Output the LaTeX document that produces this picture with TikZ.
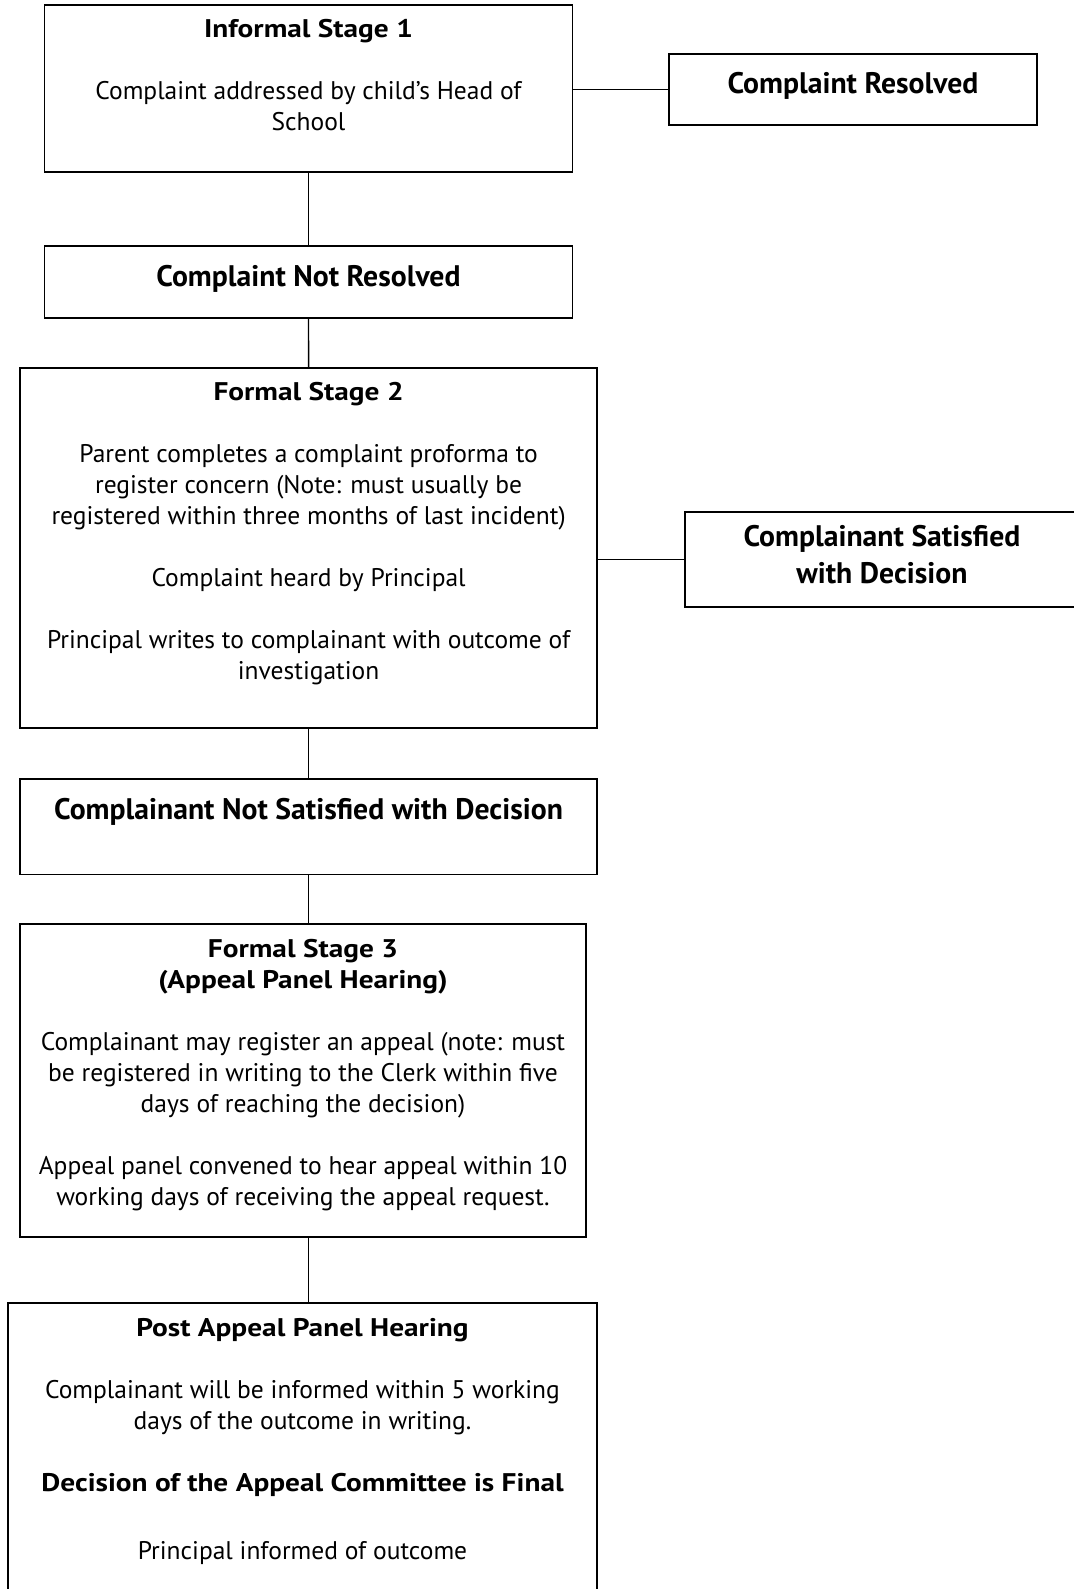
\documentclass[tikz,border=0pt]{standalone}
\usepackage{fontspec}
\setmainfont{PT Sans}
\newfontfamily\headfont[FakeStretch=1.15]{PT Sans}
\usetikzlibrary{positioning}

\begin{document}
\begin{tikzpicture}[x=0.5pt,y=-0.5pt]
  \tikzstyle{every node} = [inner sep=0pt, outer sep=0pt]
  \tikzstyle{box} = [draw, rectangle, line width=0.9pt]
  \tikzstyle{txt} = [align=center, font=\fontsize{12.75}{15.5}\selectfont]
  \tikzstyle{big} = [align=center, font=\fontsize{14.85}{18.75}\selectfont\bfseries]
  \newcommand{\hd}[1]{{\headfont\bfseries #1}}
  \useasboundingbox (0,0) rectangle (1073,1589);

  % the boxes
  \node[box, minimum width=264pt, minimum height=83.5pt] (stage1) at (308.5,88.5) {};
  \node[box, minimum width=184pt, minimum height=35.5pt] (resolved) at (853,89.5) {};
  \node[box, minimum width=264pt, minimum height=36pt] (notresolved) at (308.5,282) {};
  \node[box, minimum width=288.5pt, minimum height=180pt] (stage2) at (308.6,548) {};
  \node[box, minimum width=197pt, minimum height=47.5pt] (satisfied) at (882,559.5) {};
  \node[box, minimum width=288.5pt, minimum height=47.75pt] (notsatisfied) at (308.6,826.75) {};
  \node[box, minimum width=282.75pt, minimum height=156.5pt] (stage3) at (303,1080.5) {};
  \node[box, minimum width=294.5pt, minimum height=153.5pt] (post) at (302.5,1456.5) {};

  % the texts
  \node[txt] (stage1-txt) at (308.5,75.5) {\hd{Informal Stage 1}\\[15.5pt]
    Complaint addressed by child’s Head of\\ School};
  \node[big] (resolved-txt) at (853,86) {Complaint Resolved};
  \node[big] (notresolved-txt) at (308.5,278.6) {Complaint Not Resolved};
  \node[txt] (stage2-txt) at (308.6,534) {\hd{Formal Stage 2}\\[15.5pt]
    Parent completes a complaint proforma to\\
    register concern (Note: must usually be\\
    registered within three months of last incident)\\[15.5pt]
    Complaint heard by Principal\\[15.5pt]
    Principal writes to complainant with outcome of\\
    investigation};
  \node[big] (satisfied-txt) at (882,554.5) {Complainant Satisfied\\ with Decision};
  \node[big] (notsatisfied-txt) at (308.6,811.6) {Complainant Not Satisfied with Decision};
  \node[txt] (stage3-txt) at (303,1075.5) {\hd{Formal Stage 3}\\
    \hd{(Appeal Panel Hearing)}\\[15.5pt]
    Complainant may register an appeal (note: must\\
    be registered in writing to the Clerk within five\\
    days of reaching the decision)\\[15.5pt]
    Appeal panel convened to hear appeal within 10\\
    working days of receiving the appeal request.};
  \node[txt] (post-txt) at (302.5,1441.5) {\hd{Post Appeal Panel Hearing}\\[15.5pt]
    Complainant will be informed within 5 working\\
    days of the outcome in writing.\\[15.5pt]
    \hd{Decision of the Appeal Committee is Final}\\[18.4pt]
    Principal informed of outcome};

  % the connectors
  \tikzstyle{every path} = [line width=0.7pt]
  \draw (stage1.south) -- (notresolved.north);
  \draw (notresolved.south) -- (stage2.north);
  \draw (stage2.south) -- (notsatisfied.north);
  \draw (notsatisfied.south) -- (notsatisfied.south |- stage3.north);
  \draw (stage3.south -| notsatisfied) -- (post.north -| notsatisfied);
  \draw (resolved.west -| stage1.east) -- (resolved.west);
  \draw (satisfied.west -| stage2.east) -- (satisfied.west);
\end{tikzpicture}
\end{document}
